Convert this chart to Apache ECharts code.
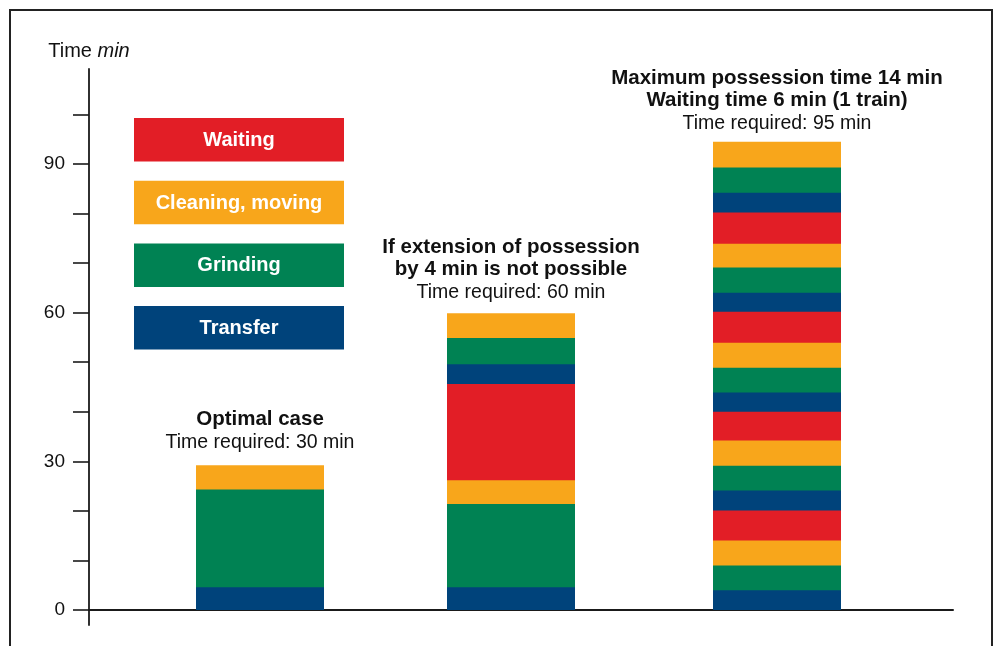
<!DOCTYPE html>
<html>
<head>
<meta charset="utf-8">
<script src="https://cdn.jsdelivr.net/npm/echarts@6/dist/echarts.min.js"></script>
<style>
html,body{margin:0;padding:0;background:#fff;}
#chart{width:1000px;height:646px;}
</style>
</head>
<body>
<div id="chart"></div>
<script>
// ---------- data ----------
const activityNames = ['Waiting', 'Cleaning, moving', 'Grinding', 'Transfer'];

const barPositions = [21.375, 52.75, 86];

const bar1Types = ['Transfer', 'Grinding', 'Cleaning, moving'];
const bar1Minutes = [4.6, 19.7, 4.9];

const bar2Types = ['Transfer', 'Grinding', 'Cleaning, moving', 'Waiting', 'Transfer', 'Grinding', 'Cleaning, moving'];
const bar2Minutes = [4.6, 16.8, 4.8, 19.4, 4.0, 5.3, 5.0];

const bar3Types = [
  'Transfer', 'Grinding', 'Cleaning, moving', 'Waiting',
  'Transfer', 'Grinding', 'Cleaning, moving', 'Waiting',
  'Transfer', 'Grinding', 'Cleaning, moving', 'Waiting',
  'Transfer', 'Grinding', 'Cleaning, moving', 'Waiting',
  'Transfer', 'Grinding', 'Cleaning, moving'
];
const bar3Minutes = [
  4.0, 5.0, 5.0, 6.1,
  4.0, 5.0, 5.1, 5.8,
  3.9, 5.0, 5.0, 6.3,
  3.8, 5.1, 4.8, 6.3,
  4.0, 5.1, 5.2
];

const barHeadlines = [
  ['Optimal case'],
  ['If extension of possession', 'by 4 min is not possible'],
  ['Maximum possession time 14 min', 'Waiting time 6 min (1 train)']
];
const barRequired = ['Time required: 30 min', 'Time required: 60 min', 'Time required: 95 min'];

const yTickLabels = [0, 30, 60, 90];

// ---------- styles ----------
const colorOf = {
  'Waiting': '#E21E26',
  'Cleaning, moving': '#F8A61B',
  'Grinding': '#008253',
  'Transfer': '#00437B'
};
const labelDistances = [11, 9, 6];
const axisColor = '#1a1a1a';
const fontFam = '"Liberation Sans", Arial, Helvetica, sans-serif';

// ---------- build ----------
const bars = [
  { pos: barPositions[0], types: bar1Types, minutes: bar1Minutes },
  { pos: barPositions[1], types: bar2Types, minutes: bar2Minutes },
  { pos: barPositions[2], types: bar3Types, minutes: bar3Minutes }
];
bars.forEach(b => {
  let s = 0;
  b.cum = b.minutes.map(m => (s += m));
  b.total = s;
});
const maxLayers = Math.max(...bars.map(b => b.types.length));

const series = [];
// transparent totals series carrying the annotations
series.push({
  type: 'bar',
  name: 'total',
  xAxisIndex: 0, yAxisIndex: 0,
  barWidth: 128, barGap: '-100%',
  silent: true,
  itemStyle: { color: 'rgba(0,0,0,0)' },
  data: bars.map((b, i) => ({
    value: [b.pos, b.total],
    label: {
      show: true,
      position: 'top',
      distance: labelDistances[i],
      formatter: barHeadlines[i].map(t => '{h|' + t + '}').join('\n') + '\n{r|' + barRequired[i] + '}'
    }
  })),
  label: {
    rich: {
      h: { fontFamily: fontFam, fontWeight: 'bold', fontSize: 20.5, lineHeight: 22, color: '#111', align: 'center' },
      r: { fontFamily: fontFam, fontSize: 19.5, lineHeight: 24, color: '#111', align: 'center' }
    }
  }
});
// cumulative layers, tallest first so shorter ones paint on top
for (let k = maxLayers - 1; k >= 0; k--) {
  const data = [];
  bars.forEach(b => {
    if (k < b.types.length) {
      data.push({ value: [b.pos, b.cum[k]], itemStyle: { color: colorOf[b.types[k]] } });
    }
  });
  series.push({
    type: 'bar',
    name: 'layer' + k,
    xAxisIndex: 0, yAxisIndex: 0,
    barWidth: 128, barGap: '-100%',
    silent: true,
    data: data
  });
}

// legend boxes as graphics
const legendGraphics = activityNames.map((name, i) => ({
  type: 'group',
  left: 134,
  top: 118 + i * 62.7,
  children: [
    { type: 'rect', shape: { x: 0, y: 0, width: 210, height: 43.5 }, style: { fill: colorOf[name] } },
    { type: 'text', x: 105, y: 22.5, style: { text: name, fill: '#fff', font: 'bold 20px ' + fontFam, align: 'center', verticalAlign: 'middle' } }
  ]
}));

const option = {
  animation: false,
  backgroundColor: '#fff',
  grid: [
    { left: 89, right: 47, top: 114.4, bottom: 36 },
    { left: 89, right: 47, top: 69, bottom: 21 }
  ],
  xAxis: [
    {
      gridIndex: 0, type: 'value', min: 0, max: 108,
      axisLine: { show: true, lineStyle: { color: axisColor, width: 2 } },
      axisTick: { show: false }, axisLabel: { show: false }, splitLine: { show: false }
    },
    {
      gridIndex: 1, type: 'value', min: 0, max: 1, show: false
    }
  ],
  yAxis: [
    {
      gridIndex: 0, type: 'value', min: 0, max: 100, interval: 10,
      axisLine: { show: false },
      axisTick: { show: true, length: 16, lineStyle: { color: axisColor, width: 1.6 } },
      axisLabel: {
        margin: 24, fontSize: 19, color: '#111',
        fontFamily: fontFam,
        formatter: v => (yTickLabels.indexOf(v) >= 0 ? String(v) : '')
      },
      splitLine: { show: false }
    },
    {
      gridIndex: 1, type: 'value', min: 0, max: 1,
      axisLine: { show: true, onZero: false, lineStyle: { color: axisColor, width: 1.8 } },
      axisTick: { show: false }, axisLabel: { show: false }, splitLine: { show: false },
      name: '{a|Time }{b|min}',
      nameLocation: 'end',
      nameGap: 8,
      nameTextStyle: {
        rich: {
          a: { fontSize: 20, color: '#111', fontFamily: fontFam },
          b: { fontSize: 20, color: '#111', fontStyle: 'italic', fontFamily: fontFam }
        }
      }
    }
  ],
  graphic: [
    {
      type: 'rect', silent: true,
      shape: { x: 10, y: 10, width: 982, height: 700 },
      style: { fill: 'none', stroke: '#222', lineWidth: 2 }
    }
  ].concat(legendGraphics),
  series: series
};

const chart = echarts.init(document.getElementById('chart'), null, { renderer: 'canvas' });
chart.setOption(option);
</script>
</body>
</html>
